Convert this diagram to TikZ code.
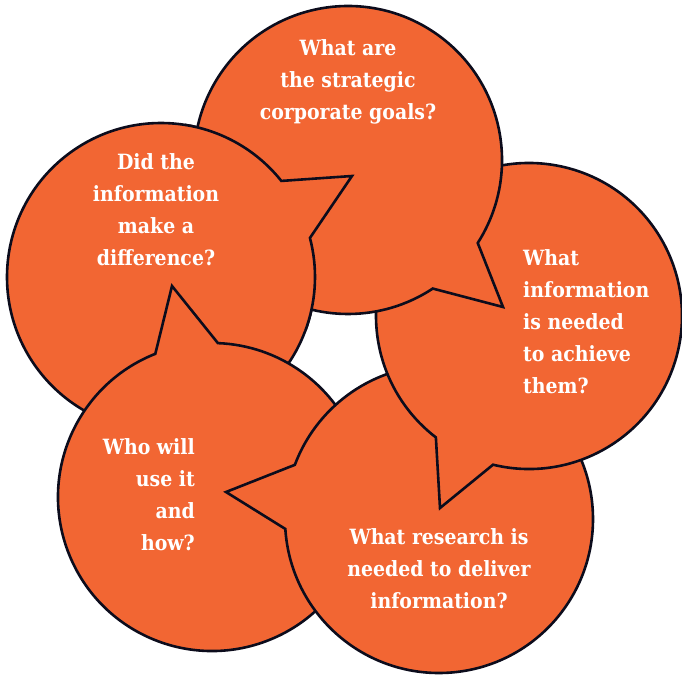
\documentclass[tikz,border=0pt]{standalone}
\usepackage{fontspec}
\setmainfont{DejaVu Serif Condensed}
\definecolor{bubblefill}{RGB}{242,102,51}
\definecolor{bubbleedge}{RGB}{12,12,28}
\tikzset{
  bubble/.style={fill=bubblefill, draw=bubbleedge, line width=2.6pt, line join=miter},
  qtext/.style={inner sep=0pt, text=white, font=\bfseries\fontsize{21}{32}\selectfont}
}
\newcommand\bubbleshape[5]{% center, start angle, end angle, radius, tip
  ([shift={(#2:#4)}]#1) arc[start angle=#2, end angle=#3, radius=#4] -- (#5) -- cycle}
\begin{document}
\begin{tikzpicture}[x=1pt,y=1pt]
\useasboundingbox (0,0) rectangle (682,-675);
\fill[white] (0,0) rectangle (682,-675);
% centres and tail tips
\coordinate (c1) at (348,-160); \coordinate (t1) at (503,-307);
\coordinate (c2) at (529,-316); \coordinate (t2) at (440,-508);
\coordinate (c3) at (439,-519); \coordinate (t3) at (226,-492);
\coordinate (c4) at (212,-497); \coordinate (t4) at (172,-286);
\coordinate (c5) at (161,-277); \coordinate (t5) at (352,-176);
% bubbles, back to front
\path[bubble] \bubbleshape{c5}{38.6}{374.7}{154}{t5};
\path[bubble] \bubbleshape{c4}{111.6}{447.8}{154}{t4};
\path[bubble] \bubbleshape{c3}{183.7}{519.4}{154}{t3};
\path[bubble] \bubbleshape{c2}{256.4}{592.5}{153}{t2};
\path[bubble] \bubbleshape{c1}{-32.6}{303.4}{154}{t1};
% the left bubble lies over the top one
\begin{scope}
  \clip (185,-100) -- (362,-100) -- (362,-330) -- (222,-330) -- (222,-298) -- (185,-298) -- cycle;
  \path[bubble] \bubbleshape{c5}{38.6}{374.7}{154}{t5};
\end{scope}
% texts
\node[qtext, anchor=base] (q1) at (348,-55)
  {\begin{tabular}[t]{@{}c@{}}What are\\the strategic\\corporate goals?\end{tabular}};
\node[qtext, anchor=base west] (q2) at (523,-265)
  {\begin{tabular}[t]{@{}l@{}}What\\information\\is needed\\to achieve\\them?\end{tabular}};
\node[qtext, anchor=base] (q3) at (439,-544)
  {\begin{tabular}[t]{@{}c@{}}What research is\\needed to deliver\\information?\end{tabular}};
\node[qtext, anchor=base east] (q4) at (195,-454)
  {\begin{tabular}[t]{@{}r@{}}Who will\\use it\\and\\how?\end{tabular}};
\node[qtext, anchor=base] (q5) at (156,-169)
  {\begin{tabular}[t]{@{}c@{}}Did the\\information\\make a\\difference?\end{tabular}};
\end{tikzpicture}
\end{document}
